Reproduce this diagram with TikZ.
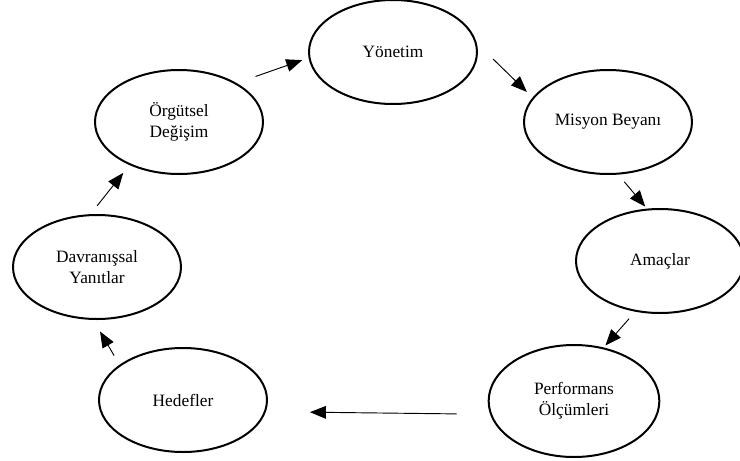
\documentclass[tikz,border=0pt]{standalone}
\usepackage{fontspec}
\setmainfont{Liberation Serif}
\usetikzlibrary{shapes.geometric, arrows.meta}

\begin{document}
\begin{tikzpicture}[x=0.75pt, y=-0.75pt,
  stage/.style={ellipse, draw, line width=1.5pt, minimum width=126pt, minimum height=78pt,
    inner sep=0pt, align=center, font=\fontsize{13}{16}\selectfont},
  flow/.style={-{Triangle[length=12pt, width=9.5pt]}, line width=0.7pt}]
\useasboundingbox (0,0) rectangle (740,461);
% Stages of the cycle
\node[stage] (yon) at (393,52) {Yönetim};
\node[stage] (mis) at (608,122) {Misyon Beyanı};
\node[stage] (ama) at (660,261) {Amaçlar};
\node[stage, minimum width=128pt, minimum height=84pt] (per) at (574,401) {Performans\\Ölçümleri};
\node[stage] (hed) at (183,400) {Hedefler};
\node[stage] (dav) at (97,267) {Davranışsal\\Yanıtlar};
\node[stage] (org) at (179,122) {Örgütsel\\Değişim};

% Arrows between stages
\draw[flow, shorten <=15pt, shorten >=5pt] (org.34) -- (yon.184);
\draw[flow, shorten <=17pt, shorten >=6pt] (yon.6) -- (mis.162);
\draw[flow, shorten <=7pt, shorten >=2pt] (mis.281) -- (ama.104);
\draw[flow, shorten <=7pt, shorten >=2pt] (ama.244) -- (per.61);
\draw[flow, shorten <=25pt, shorten >=33pt] (per.189) -- (hed.352);
\draw[flow, shorten <=8pt, shorten >=10pt] (hed.151) -- (dav.266);
\draw[flow, shorten <=8pt, shorten >=7.5pt] (dav.97) -- (org.221);
\end{tikzpicture}
\end{document}
